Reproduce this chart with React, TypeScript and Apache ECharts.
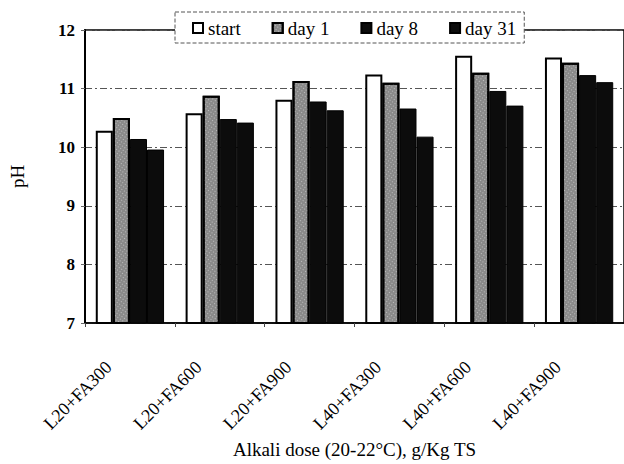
import React, { useEffect, useRef } from "react";
import * as echarts from "echarts";

// Alkali dose treatments
const categories = ["L20+FA300", "L20+FA600", "L20+FA900", "L40+FA300", "L40+FA600", "L40+FA900"];

// pH measured at each sampling time
const phStart = [10.28, 10.58, 10.81, 11.24, 11.56, 11.53];
const phDay1 = [10.5, 10.88, 11.13, 11.1, 11.27, 11.44];
const phDay8 = [10.14, 10.48, 10.78, 10.66, 10.96, 11.23];
const phDay31 = [9.96, 10.42, 10.63, 10.18, 10.71, 11.11];

const yTicks = [7, 8, 9, 10, 11, 12];

const FONT = "'Liberation Serif', 'DejaVu Serif', serif";

export default function App() {
  const ref = useRef<HTMLDivElement>(null);

  useEffect(() => {
    if (!ref.current) return;
    const chart = echarts.init(ref.current, undefined, { renderer: "svg" });

    const barBase = {
      type: "bar" as const,
      barGap: "0%",
      barCategoryGap: "24%",
    };

    chart.setOption({
      animation: false,
      backgroundColor: "#ffffff",
      grid: {
        left: 82,
        top: 30,
        width: 546,
        height: 293,
        show: true,
        borderColor: "#000",
        borderWidth: 1.5,
        backgroundColor: "transparent",
      },
      legend: {
        left: 175,
        top: 12,
        padding: [6, 8, 5, 17],
        itemGap: 31,
        itemWidth: 10,
        itemHeight: 10,
        icon: "rect",
        backgroundColor: "#ffffff",
        borderColor: "#555",
        borderWidth: 1,
        borderType: "dashed",
        textStyle: { fontFamily: FONT, fontSize: 19, color: "#000", lineHeight: 20 },
        data: ["start", "day 1", "day 8", "day 31"],
      },
      xAxis: {
        type: "category",
        data: categories,
        axisLine: { lineStyle: { color: "#000", width: 1.5 } },
        axisTick: { show: true, length: 4, lineStyle: { color: "#444" } },
        axisLabel: {
          rotate: 45,
          margin: 20,
          formatter: (v: string) => `{c|${v}}`,
          rich: {
            c: { fontFamily: FONT, fontSize: 18, color: "#000", padding: [0, 30, 0, 0] },
          },
          fontFamily: FONT,
          fontSize: 18,
          color: "#000",
        },
        name: "Alkali dose (20-22°C), g/Kg TS",
        nameLocation: "middle",
        nameGap: 114,
        nameTextStyle: { fontFamily: FONT, fontSize: 19, color: "#000" },
      },
      yAxis: {
        type: "value",
        min: yTicks[0],
        max: yTicks[yTicks.length - 1],
        interval: 1,
        axisLine: { show: true, lineStyle: { color: "#000", width: 2 } },
        axisTick: { show: true, length: 4, lineStyle: { color: "#666" } },
        axisLabel: {
          margin: 10,
          fontFamily: FONT,
          fontSize: 17,
          fontWeight: "bold",
          color: "#000",
        },
        splitLine: {
          show: true,
          lineStyle: { color: "#555", width: 1, type: [7, 3, 2, 3] },
        },
        name: "pH",
        nameLocation: "middle",
        nameGap: 58,
        nameRotate: 90,
        nameTextStyle: { fontFamily: FONT, fontSize: 19, color: "#000" },
      },
      series: [
        {
          ...barBase,
          name: "start",
          data: phStart,
          itemStyle: { color: "#ffffff", borderColor: "#000", borderWidth: 2 },
        },
        {
          ...barBase,
          name: "day 1",
          data: phDay1,
          itemStyle: {
            color: "#8a8a8a",
            borderColor: "#000",
            borderWidth: 2,
            decal: {
              symbol: "rect",
              symbolSize: 1,
              color: "rgba(255,255,255,0.45)",
              dashArrayX: [1, 2],
              dashArrayY: [1, 2],
              rotation: 0.6,
            },
          },
        },
        {
          ...barBase,
          name: "day 8",
          data: phDay8,
          itemStyle: { color: "#0c0c0c", borderColor: "#000", borderWidth: 1 },
        },
        {
          ...barBase,
          name: "day 31",
          data: phDay31,
          itemStyle: { color: "#0c0c0c", borderColor: "#000", borderWidth: 1 },
        },
      ],
    });

    return () => chart.dispose();
  }, []);

  return (
    <div
      ref={ref}
      style={{ position: "fixed", left: 0, top: 0, width: 624, height: 464, background: "#fff" }}
    />
  );
}
